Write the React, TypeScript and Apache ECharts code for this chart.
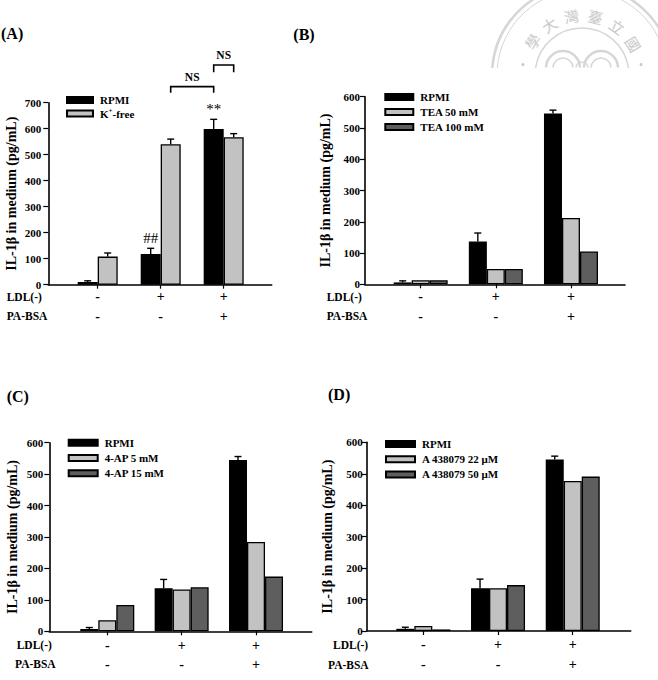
import React, { useEffect, useRef } from 'react';
import * as echarts from 'echarts';

// ---------- data ----------
const groups = [0, 1, 2];
const ldlSigns = ['-', '+', '+'];
const paBsaSigns = ['-', '-', '+'];
const rowTitles = ['LDL(-)', 'PA-BSA'];
const yAxisTitle = 'IL-1β in medium (pg/mL)';
const yTicksA = 700;
const yTicksBCD = 600;

// (A)
const aNames = ['RPMI', 'K⁺-free'];
const aRpmi = [10, 118, 599];
const aRpmiErr = [5, 22, 37];
const aKfree = [108, 540, 567];
const aKfreeErr = [14, 20, 14];
const aMarkGroup = [1, 2];
const aMarkBar = [0, 0];
const aMarkText = ['##', '**'];
const aBracketFrom = [[1, 1], [2, 0]];
const aBracketTo = [[2, 0], [2, 1]];
const aBracketTop = [762, 845];
const aBracketEnd = [738, 817];
const aBracketText = ['NS', 'NS'];

// (B)
const bNames = ['RPMI', 'TEA 50 mM', 'TEA 100 mM'];
const bRpmi = [6, 137, 546];
const bRpmiErr = [5, 27, 11];
const bTea50 = [13, 49, 212];
const bTea100 = [13, 49, 105];

// (C)
const cNames = ['RPMI', '4-AP 5 mM', '4-AP 15 mM'];
const cRpmi = [7, 137, 545];
const cRpmiErr = [5, 28, 11];
const c4ap5 = [35, 133, 284];
const c4ap15 = [84, 140, 174];

// (D)
const dNames = ['RPMI', 'A 438079 22 μM', 'A 438079 50 μM'];
const dRpmi = [7, 136, 545];
const dRpmiErr = [5, 29, 11];
const dA22 = [16, 136, 477];
const dA50 = [5, 146, 491];

// watermark characters
const sealChars = ['學', '大', '灣', '臺', '立', '國'];

// ---------- styles / layout ----------
const FONT = "'Liberation Serif', 'Times New Roman', serif";
const BLACK = '#000000';
const LIGHT = '#c2c2c2';
const DARK = '#5e5e5e';

const panels = [
  {
    label: '(A)', labelX: 1, labelY: 33,
    names: aNames, values: [aRpmi, aKfree], errs: [aRpmiErr, aKfreeErr], colors: [BLACK, LIGHT],
    yMax: yTicksA, grid: { left: 48.3, top: 102.7, width: 223.4, height: 182 },
    xMin: -0.784, xMax: 2.762, barWidth: 20,
    legend: { left: 66, top: 94, itemWidth: 26, itemGap: 1 },
    nameGap: 29.6, yLabelMargin: 7, xLabelMargin: 2.2,
    rowX: [6.7, 6.7], rowY: [296.7, 316],
  },
  {
    label: '(B)', labelX: 293.3, labelY: 34,
    names: bNames, values: [bRpmi, bTea50, bTea100], errs: [bRpmiErr, null, null], colors: [BLACK, LIGHT, DARK],
    yMax: yTicksBCD, grid: { left: 365, top: 96.7, width: 260, height: 187.6 },
    xMin: -0.741, xMax: 2.719, barWidth: 18,
    legend: { left: 384.3, top: 91, itemWidth: 28, itemGap: 3 },
    nameGap: 33, yLabelMargin: 5, xLabelMargin: 2.6,
    rowX: [326.7, 326.7], rowY: [296.7, 315.7],
  },
  {
    label: '(C)', labelX: 6.7, labelY: 396.7,
    names: cNames, values: [cRpmi, c4ap5, c4ap15], errs: [cRpmiErr, null, null], colors: [BLACK, LIGHT, DARK],
    yMax: yTicksBCD, grid: { left: 49.3, top: 442.7, width: 262.4, height: 188.6 },
    xMin: -0.78, xMax: 2.749, barWidth: 18,
    legend: { left: 67.7, top: 436.7, itemWidth: 29, itemGap: 3.3 },
    nameGap: 29.6, yLabelMargin: 6, xLabelMargin: 4,
    rowX: [16.7, 15], rowY: [645, 664.3],
  },
  {
    label: '(D)', labelX: 328, labelY: 394,
    names: dNames, values: [dRpmi, dA22, dA50], errs: [dRpmiErr, null, null], colors: [BLACK, LIGHT, DARK],
    yMax: yTicksBCD, grid: { left: 366.7, top: 442.3, width: 264, height: 188.7 },
    xMin: -0.758, xMax: 2.776, barWidth: 18,
    legend: { left: 385, top: 438, itemWidth: 29, itemGap: 3.2 },
    nameGap: 32.4, yLabelMargin: 4, xLabelMargin: 4.2,
    rowX: [333, 328], rowY: [645, 665],
  },
];

function barX(api: any, g: number, b: number, n: number, bw: number) {
  return api.coord([g, 0])[0] + (b - (n - 1) / 2) * bw;
}

function buildOption() {
  const option: any = {
    animation: false,
    backgroundColor: '#ffffff',
    grid: [], xAxis: [], yAxis: [], legend: [], series: [], graphic: [],
  };
  const axisLineStyle = { color: '#000', width: 1.6 };

  panels.forEach((p, i) => {
    const n = p.values.length;
    option.grid.push({ ...p.grid, containLabel: false });
    option.xAxis.push({
      type: 'value', gridIndex: i, min: p.xMin, max: p.xMax,
      axisLine: { show: true, onZero: false, lineStyle: axisLineStyle },
      axisTick: { show: true, customValues: groups, length: 4, lineStyle: { color: '#000', width: 1.2 } },
      axisLabel: {
        customValues: groups, margin: p.xLabelMargin,
        formatter: (v: number) => {
          const k = Math.round(v);
          return `${ldlSigns[k]}\n${paBsaSigns[k]}`;
        },
        fontFamily: FONT, fontWeight: 'bold', fontSize: 14, lineHeight: 19.5, color: '#000',
      },
      splitLine: { show: false },
    });
    option.yAxis.push({
      type: 'value', gridIndex: i, min: 0, max: p.yMax, interval: 100,
      axisLine: { show: true, onZero: false, lineStyle: axisLineStyle },
      axisTick: { show: true, length: 5, lineStyle: { color: '#000', width: 1.2 } },
      axisLabel: { margin: p.yLabelMargin, fontFamily: FONT, fontWeight: 'bold', fontSize: 11, color: '#000' },
      splitLine: { show: false },
      name: yAxisTitle, nameLocation: 'middle', nameGap: p.nameGap,
      nameTextStyle: { fontFamily: FONT, fontWeight: 'bold', fontSize: 14, color: '#000' },
    });
    option.legend.push({
      data: p.names, orient: 'vertical', left: p.legend.left, top: p.legend.top, padding: 0,
      itemWidth: p.legend.itemWidth, itemHeight: 6, itemGap: p.legend.itemGap,
      icon: 'rect', selectedMode: false,
      formatter: (name: string) => (name === 'K⁺-free' ? '{t|K}{s|+}{t|-free}' : name),
      textStyle: {
        fontFamily: FONT, fontWeight: 'bold', fontSize: 11, lineHeight: 12, color: '#000', padding: [0, 0, 0, 2],
        rich: {
          t: { fontFamily: FONT, fontWeight: 'bold', fontSize: 11, color: '#000' },
          s: { fontFamily: FONT, fontWeight: 'bold', fontSize: 7, color: '#000', padding: [0, 0, 6, 0] },
        },
      },
    });

    p.values.forEach((vals, j) => {
      option.series.push({
        type: 'bar', name: p.names[j], xAxisIndex: i, yAxisIndex: i,
        data: groups.map((g, k) => [g, vals[k]]),
        barWidth: p.barWidth, barGap: '0%',
        itemStyle: { color: p.colors[j], borderColor: '#000', borderWidth: 1.3 },
        emphasis: { disabled: true }, silent: true, z: 2,
      });
    });

    const errData: number[][] = [];
    p.errs.forEach((errs, j) => {
      if (!errs) return;
      groups.forEach((g, k) => errData.push([g, j, p.values[j][k], errs[k]]));
    });
    option.series.push({
      type: 'custom', xAxisIndex: i, yAxisIndex: i, data: errData, encode: { x: 0, y: 2 },
      clip: false, silent: true, z: 3,
      renderItem: (params: any, api: any) => {
        const g = api.value(0), b = api.value(1), v = api.value(2), e = api.value(3);
        const x = barX(api, g, b, n, p.barWidth);
        const y0 = api.coord([g, v])[1];
        const y1 = api.coord([g, v + e])[1];
        const st = { stroke: '#000', lineWidth: 1.4 };
        return {
          type: 'group', children: [
            { type: 'line', shape: { x1: x, y1: y0, x2: x, y2: y1 }, style: st },
            { type: 'line', shape: { x1: x - 3.5, y1: y1, x2: x + 3.5, y2: y1 }, style: st },
          ],
        };
      },
    });

    option.graphic.push({
      type: 'text', x: p.labelX, y: p.labelY,
      style: { text: p.label, fontFamily: FONT, fontWeight: 'bold', fontSize: 16, fill: '#000', verticalAlign: 'middle' },
    });
    rowTitles.forEach((t, r) => {
      option.graphic.push({
        type: 'text', x: p.rowX[r], y: p.rowY[r],
        style: { text: t, fontFamily: FONT, fontWeight: 'bold', fontSize: 11.5, fill: '#000', verticalAlign: 'middle' },
      });
    });
  });

  // Panel A significance marks
  const pa = panels[0];
  option.series.push({
    type: 'custom', xAxisIndex: 0, yAxisIndex: 0,
    data: aMarkGroup.map((g, m) => [g, aMarkBar[m], pa.values[aMarkBar[m]][g] + pa.errs[aMarkBar[m]]![g]]),
    encode: { x: 0, y: 2 }, clip: false, silent: true, z: 4,
    renderItem: (params: any, api: any) => {
      const g = api.value(0), b = api.value(1), top = api.value(2);
      const x = barX(api, g, b, pa.values.length, pa.barWidth);
      const y = api.coord([g, top])[1] - 3;
      return {
        type: 'text', x, y,
        style: { text: aMarkText[params.dataIndex], fontFamily: FONT, fontSize: 15, fill: '#000', align: 'center', verticalAlign: 'bottom' },
      };
    },
  });
  // Panel A NS brackets
  option.series.push({
    type: 'custom', xAxisIndex: 0, yAxisIndex: 0,
    data: aBracketFrom.map((f, m) => [f[0], f[1], aBracketTo[m][0], aBracketTo[m][1], aBracketTop[m], aBracketEnd[m]]),
    encode: { x: 0, y: 4 }, clip: false, silent: true, z: 4,
    renderItem: (params: any, api: any) => {
      const nb = pa.values.length;
      const x1 = barX(api, api.value(0), api.value(1), nb, pa.barWidth);
      const x2 = barX(api, api.value(2), api.value(3), nb, pa.barWidth);
      const yT = api.coord([0, api.value(4)])[1];
      const yE = api.coord([0, api.value(5)])[1];
      return {
        type: 'group', children: [
          { type: 'polyline', shape: { points: [[x1, yE], [x1, yT], [x2, yT], [x2, yE]] }, style: { stroke: '#000', lineWidth: 1.6, fill: 'none' } },
          {
            type: 'text', x: (x1 + x2) / 2, y: yT - 4,
            style: { text: aBracketText[params.dataIndex], fontFamily: FONT, fontWeight: 'bold', fontSize: 11.5, fill: '#000', align: 'center', verticalAlign: 'bottom' },
          },
        ],
      };
    },
  });

  // Faint watermark seal (top right)
  const cx = 582, cy = 75;
  const wm = '#d6d6d6';
  const arcFor = (x: number, y: number, r: number, cut: number, lw: number) => {
    const a = Math.asin(Math.min(0.99, cut / r));
    return {
      type: 'arc', silent: true, z: -10,
      shape: { cx: x, cy: y, r, startAngle: Math.PI + a, endAngle: 2 * Math.PI - a, clockwise: true },
      style: { stroke: wm, lineWidth: lw, fill: 'none' },
    };
  };
  option.graphic.push(arcFor(cx, cy, 90, 7, 2.5));
  option.graphic.push(arcFor(cx, cy, 85, 7, 1));
  option.graphic.push(arcFor(cx, cy, 47, 7, 1.5));
  option.graphic.push(arcFor(563, 68, 17, 0.5, 2.5));
  option.graphic.push(arcFor(601, 68, 17, 0.5, 2.5));
  option.graphic.push(arcFor(563, 68, 10, 0.5, 1.5));
  option.graphic.push(arcFor(601, 68, 10, 0.5, 1.5));
  option.graphic.push(arcFor(582, 68, 6, 0.5, 1.5));
  sealChars.forEach((ch, k) => {
    const deg = 214 + k * 23;
    const rad = (deg * Math.PI) / 180;
    option.graphic.push({
      type: 'text', silent: true, z: -10,
      x: cx + 60 * Math.cos(rad), y: cy + 60 * Math.sin(rad),
      rotation: ((270 - deg) * Math.PI) / 180,
      style: { text: ch, fontFamily: "'Noto Sans CJK TC', sans-serif", fontSize: 15, fill: '#c8c8c8', align: 'center', verticalAlign: 'middle' },
    });
  });
  [190, 350].forEach((deg) => {
    const rad = (deg * Math.PI) / 180;
    option.graphic.push({
      type: 'circle', silent: true, z: -10,
      shape: { cx: cx + 60 * Math.cos(rad), cy: cy + 60 * Math.sin(rad), r: 1.5 },
      style: { fill: '#c8c8c8' },
    });
  });

  return option;
}

export default function App() {
  const ref = useRef<HTMLDivElement>(null);
  useEffect(() => {
    if (!ref.current) return;
    const chart = echarts.init(ref.current, undefined, { renderer: 'svg' });
    chart.setOption(buildOption());
    return () => chart.dispose();
  }, []);
  return (
    <div
      ref={ref}
      style={{ position: 'absolute', left: 0, top: 0, width: 658, height: 680, background: '#fff' }}
    />
  );
}
